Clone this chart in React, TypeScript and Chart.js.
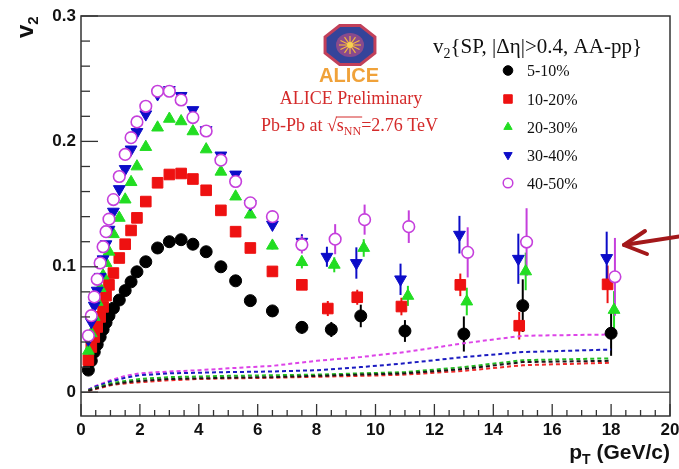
import React, { useEffect, useRef } from "react";
import { Chart, registerables } from "chart.js";

Chart.register(...registerables);

// ---------- data ----------
const pT = [0.25, 0.35, 0.45, 0.55, 0.65, 0.75, 0.85, 0.95, 1.1, 1.3, 1.5, 1.7, 1.9, 2.2, 2.6, 3.0, 3.4, 3.8, 4.25, 4.75, 5.25, 5.75, 6.5, 7.5, 8.5, 9.5, 11, 13, 15, 18];

const v2Cent5to10 = [0.0176, 0.025, 0.032, 0.038, 0.044, 0.05, 0.0555, 0.061, 0.067, 0.0735, 0.081, 0.088, 0.096, 0.104, 0.115, 0.12, 0.1216, 0.118, 0.112, 0.1, 0.0888, 0.073, 0.0648, 0.0517, 0.05, 0.0608, 0.0488, 0.0464, 0.069, 0.047];
const v2Cent10to20 = [0.0256, 0.036, 0.044, 0.052, 0.06, 0.068, 0.077, 0.0856, 0.095, 0.107, 0.118, 0.129, 0.139, 0.152, 0.167, 0.1736, 0.1744, 0.17, 0.161, 0.145, 0.128, 0.115, 0.0963, 0.0856, 0.0667, 0.0757, 0.0683, 0.0856, 0.053, 0.086];
const v2Cent20to30 = [0.033, 0.047, 0.06, 0.072, 0.083, 0.093, 0.103, 0.112, 0.126, 0.139, 0.1536, 0.1675, 0.18, 0.1955, 0.211, 0.218, 0.216, 0.208, 0.1936, 0.1758, 0.156, 0.1416, 0.1168, 0.1037, 0.1016, 0.115, 0.0768, 0.0723, 0.0963, 0.0656];
const v2Cent30to40 = [0.042, 0.056, 0.069, 0.081, 0.092, 0.106, 0.118, 0.1296, 0.144, 0.162, 0.178, 0.1936, 0.2075, 0.2216, 0.2376, 0.241, 0.2363, 0.225, 0.209, 0.1888, 0.1736, 0.15, 0.1336, 0.12, 0.108, 0.103, 0.09, 0.1256, 0.1064, 0.107];
const v2Cent40to50 = [0.045, 0.061, 0.076, 0.09, 0.103, 0.116, 0.128, 0.138, 0.1536, 0.172, 0.1896, 0.203, 0.2155, 0.228, 0.24, 0.24, 0.233, 0.219, 0.2083, 0.185, 0.168, 0.151, 0.14, 0.1176, 0.122, 0.1376, 0.132, 0.1115, 0.1197, 0.092];

const err5to10 = [0, 0, 0, 0, 0, 0, 0, 0, 0, 0, 0, 0, 0, 0, 0, 0, 0, 0, 0.001, 0.001, 0.0015, 0.002, 0.003, 0.005, 0.006, 0.009, 0.0087, 0.014, 0.021, 0.018];
const err10to20 = [0, 0, 0, 0, 0, 0, 0, 0, 0, 0, 0, 0, 0, 0, 0, 0, 0, 0, 0.001, 0.001, 0.0015, 0.002, 0.003, 0.004, 0.006, 0.006, 0.007, 0.009, 0.011, 0.015];
const err20to30 = [0, 0, 0, 0, 0, 0, 0, 0, 0, 0, 0, 0, 0, 0, 0, 0, 0, 0, 0.001, 0.0015, 0.002, 0.0025, 0.003, 0.005, 0.006, 0.007, 0.008, 0.011, 0.015, 0.015];
const err30to40 = [0, 0, 0, 0, 0, 0, 0, 0, 0, 0, 0, 0, 0, 0, 0, 0, 0, 0, 0.0015, 0.002, 0.0025, 0.003, 0.004, 0.006, 0.008, 0.0125, 0.0125, 0.015, 0.02, 0.021];
const err40to50 = [0, 0, 0, 0, 0, 0, 0, 0, 0, 0, 0, 0, 0, 0, 0, 0, 0, 0, 0.0015, 0.002, 0.0025, 0.003, 0.004, 0.007, 0.012, 0.012, 0.013, 0.02, 0.027, 0.031];

// non-flow estimates (dashed lines)
const nonFlowPt = [0.25, 0.5, 1.0, 1.5, 2.0, 3.0, 4.0, 5.0, 6.5, 8.0, 9.5, 11, 13, 15, 18];
const nf5to10 = [0.0012, 0.003, 0.006, 0.0078, 0.009, 0.0105, 0.011, 0.0115, 0.012, 0.013, 0.014, 0.015, 0.0185, 0.024, 0.025];
const nf10to20 = [0.001, 0.0025, 0.0055, 0.007, 0.008, 0.0095, 0.0105, 0.011, 0.0115, 0.0123, 0.013, 0.014, 0.017, 0.0215, 0.0235];
const nf20to30 = [0.0015, 0.0035, 0.007, 0.009, 0.0105, 0.012, 0.0125, 0.013, 0.0135, 0.014, 0.015, 0.016, 0.02, 0.0255, 0.027];
const nf30to40 = [0.0018, 0.0045, 0.0085, 0.0115, 0.0135, 0.015, 0.0155, 0.016, 0.0165, 0.0175, 0.02, 0.023, 0.028, 0.032, 0.034];
const nf40to50 = [0.002, 0.005, 0.0095, 0.013, 0.015, 0.0165, 0.0175, 0.019, 0.021, 0.025, 0.028, 0.032, 0.039, 0.045, 0.046];

const centLabels = ["5-10%", "10-20%", "20-30%", "30-40%", "40-50%"];
const xTickValues = [0, 2, 4, 6, 8, 10, 12, 14, 16, 18, 20];
const yTickValues = [0, 0.1, 0.2, 0.3];

// ---------- styles ----------
const SANS = '"Liberation Sans", Arial, Helvetica, sans-serif';
const SERIF = '"Liberation Serif", "Times New Roman", Times, serif';

const series = [
  { label: centLabels[0], values: v2Cent5to10, errors: err5to10, nonflow: nf5to10, color: "#000000", line: "#1a1a1a", marker: "circle", fill: true, radius: 6, rot: 0, shift: 0 },
  { label: centLabels[1], values: v2Cent10to20, errors: err10to20, nonflow: nf10to20, color: "#ee1111", line: "#ee2a2a", marker: "rect", fill: true, radius: 7.5, rot: 0, shift: -0.12 },
  { label: centLabels[2], values: v2Cent20to30, errors: err20to30, nonflow: nf20to30, color: "#22dd22", line: "#22bb22", marker: "triangle", fill: true, radius: 6.8, rot: 0, shift: 0.1 },
  { label: centLabels[3], values: v2Cent30to40, errors: err30to40, nonflow: nf30to40, color: "#0c0cc8", line: "#1a1ac0", marker: "triangle", fill: true, radius: 6.8, rot: 180, shift: -0.15 },
  { label: centLabels[4], values: v2Cent40to50, errors: err40to50, nonflow: nf40to50, color: "#c53fdc", line: "#dd44e8", marker: "circle", fill: false, radius: 5.8, rot: 0, shift: 0.13 },
];

function drawMarker(ctx: CanvasRenderingContext2D, s: any, x: number, y: number, r: number) {
  ctx.save();
  ctx.fillStyle = s.fill ? s.color : "#ffffff";
  ctx.strokeStyle = s.color;
  ctx.lineWidth = s.fill ? 1 : 1.5;
  ctx.beginPath();
  if (s.marker === "circle") {
    ctx.arc(x, y, r, 0, Math.PI * 2);
  } else if (s.marker === "rect") {
    const h = r * Math.SQRT1_2;
    ctx.rect(x - h, y - h, 2 * h, 2 * h);
  } else {
    const sign = s.rot === 180 ? -1 : 1;
    ctx.moveTo(x, y - sign * r);
    ctx.lineTo(x + r * 0.866, y + sign * r * 0.5);
    ctx.lineTo(x - r * 0.866, y + sign * r * 0.5);
    ctx.closePath();
  }
  ctx.fill();
  ctx.stroke();
  ctx.restore();
}

const overlayPlugin = {
  id: "rootOverlay",
  beforeDatasetsDraw(chart: any) {
    const ctx: CanvasRenderingContext2D = chart.ctx;
    const xs = chart.scales.x;
    const ys = chart.scales.y;
    chart.data.datasets.forEach((ds: any) => {
      if (!ds.errorBars) return;
      ctx.save();
      ctx.strokeStyle = ds.borderColor;
      ctx.lineWidth = 2;
      ds.data.forEach((p: any, i: number) => {
        const e = ds.errorBars[i];
        if (!e) return;
        const px = xs.getPixelForValue(p.x);
        ctx.beginPath();
        ctx.moveTo(px, ys.getPixelForValue(p.y + e));
        ctx.lineTo(px, ys.getPixelForValue(p.y - e));
        ctx.stroke();
      });
      ctx.restore();
    });
  },
  afterDraw(chart: any) {
    const ctx: CanvasRenderingContext2D = chart.ctx;
    const xs = chart.scales.x;
    const ys = chart.scales.y;
    const { left, right, top, bottom } = chart.chartArea;

    ctx.save();
    // zero line
    ctx.strokeStyle = "#555";
    ctx.lineWidth = 1.5;
    const y0 = ys.getPixelForValue(0);
    ctx.beginPath();
    ctx.moveTo(left, y0);
    ctx.lineTo(right, y0);
    ctx.stroke();

    // frame
    ctx.strokeStyle = "#333";
    ctx.lineWidth = 1.5;
    ctx.strokeRect(left, top, right - left, bottom - top);

    // y ticks (inside)
    ctx.lineWidth = 1.3;
    for (let k = -1; k <= 15; k++) {
      const v = k * 0.02;
      if (v < ys.min || v > ys.max) continue;
      const py = ys.getPixelForValue(v);
      const len = k % 5 === 0 ? 17 : 9;
      ctx.beginPath();
      ctx.moveTo(left, py);
      ctx.lineTo(left + len, py);
      ctx.stroke();
    }
    // x ticks (inside)
    for (let k = 0; k <= 40; k++) {
      const v = k * 0.5;
      const px = xs.getPixelForValue(v);
      const len = k % 4 === 0 ? 12 : 6;
      ctx.beginPath();
      ctx.moveTo(px, bottom);
      ctx.lineTo(px, bottom - len);
      ctx.stroke();
    }

    // x title
    ctx.fillStyle = "#111";
    ctx.textBaseline = "alphabetic";
    ctx.font = `bold 21px ${SANS}`;
    const tailTxt = " (GeV/c)";
    const pW = ctx.measureText("p").width;
    const tailW = ctx.measureText(tailTxt).width;
    ctx.font = `bold 14px ${SANS}`;
    const tW = ctx.measureText("T").width;
    let xx = right - (pW + tW + tailW);
    ctx.font = `bold 21px ${SANS}`;
    ctx.fillText("p", xx, 459);
    xx += pW;
    ctx.font = `bold 14px ${SANS}`;
    ctx.fillText("T", xx, 464);
    xx += tW;
    ctx.font = `bold 21px ${SANS}`;
    ctx.fillText(tailTxt, xx, 459);

    // y title (rotated)
    ctx.save();
    ctx.translate(33, 38);
    ctx.rotate(-Math.PI / 2);
    ctx.font = `bold 24px ${SANS}`;
    ctx.fillText("v", 0, 0);
    const vW = ctx.measureText("v").width;
    ctx.font = `bold 15px ${SANS}`;
    ctx.fillText("2", vW, 5);
    ctx.restore();

    // legend
    ctx.fillStyle = "#111";
    ctx.font = `21px ${SERIF}`;
    let lx = 433;
    ctx.fillText("v", lx, 53);
    lx += ctx.measureText("v").width;
    ctx.font = `14px ${SERIF}`;
    ctx.fillText("2", lx, 58);
    lx += ctx.measureText("2").width;
    ctx.font = `21px ${SERIF}`;
    ctx.fillText("{SP, |Δη|>0.4, AA-pp}", lx, 53);

    const rowY = [70.5, 99, 127, 155, 183];
    series.forEach((s, i) => {
      drawMarker(ctx, s, 508, rowY[i], s.marker === "rect" ? 6 : 4.8);
      ctx.fillStyle = "#111";
      ctx.font = `16px ${SERIF}`;
      ctx.fillText(s.label, 527, rowY[i] + 5.5);
    });

    // ALICE logo
    const cx = 350, cy = 45;
    ctx.beginPath();
    for (let k = 0; k < 8; k++) {
      const a = Math.PI / 8 + (k * Math.PI) / 4;
      const px = cx + 27 * Math.cos(a);
      const py = cy + 21 * Math.sin(a);
      if (k === 0) ctx.moveTo(px, py);
      else ctx.lineTo(px, py);
    }
    ctx.closePath();
    ctx.fillStyle = "#34449a";
    ctx.fill();
    ctx.strokeStyle = "#c2405a";
    ctx.lineWidth = 3;
    ctx.stroke();
    ctx.beginPath();
    ctx.ellipse(cx, cy, 14, 12, 0, 0, Math.PI * 2);
    ctx.fillStyle = "#8a4a8c";
    ctx.fill();
    ctx.strokeStyle = "#f2b640";
    ctx.lineWidth = 1.2;
    for (let k = 0; k < 12; k++) {
      const a = (k * Math.PI) / 6;
      ctx.beginPath();
      ctx.moveTo(cx, cy);
      ctx.lineTo(cx + 11 * Math.cos(a), cy + 9 * Math.sin(a));
      ctx.stroke();
    }
    ctx.beginPath();
    ctx.arc(cx, cy, 3, 0, Math.PI * 2);
    ctx.fillStyle = "#f7d050";
    ctx.fill();
    ctx.font = `bold 20px ${SANS}`;
    ctx.fillStyle = "#f0a23a";
    ctx.textAlign = "center";
    ctx.fillText("ALICE", 349, 82);

    // preliminary texts
    ctx.fillStyle = "#d42a2a";
    ctx.font = `18px ${SERIF}`;
    ctx.fillText("ALICE Preliminary", 351, 104);
    ctx.textAlign = "left";
    const part1 = "Pb-Pb at ";
    const part3 = "=2.76 TeV";
    ctx.font = `18px ${SERIF}`;
    const w1 = ctx.measureText(part1).width;
    const wR = ctx.measureText("√").width;
    const wS = ctx.measureText("s").width;
    const w3 = ctx.measureText(part3).width;
    ctx.font = `12px ${SERIF}`;
    const wNN = ctx.measureText("NN").width;
    let tx = 349.5 - (w1 + wR + wS + wNN + w3) / 2;
    const by = 131;
    ctx.font = `18px ${SERIF}`;
    ctx.fillText(part1, tx, by);
    tx += w1;
    ctx.fillText("√", tx, by);
    tx += wR;
    ctx.strokeStyle = "#d42a2a";
    ctx.lineWidth = 1;
    ctx.beginPath();
    ctx.moveTo(tx - 1, by - 14);
    ctx.lineTo(tx + wS + wNN + 1, by - 14);
    ctx.stroke();
    ctx.fillText("s", tx, by);
    tx += wS;
    ctx.font = `12px ${SERIF}`;
    ctx.fillText("NN", tx, by + 4);
    tx += wNN;
    ctx.font = `18px ${SERIF}`;
    ctx.fillText(part3, tx, by);

    // red arrow
    ctx.strokeStyle = "#a3181a";
    ctx.lineWidth = 4;
    ctx.lineCap = "round";
    ctx.lineJoin = "round";
    ctx.beginPath();
    ctx.moveTo(682, 236);
    ctx.lineTo(624, 245);
    ctx.stroke();
    ctx.beginPath();
    ctx.moveTo(645, 231);
    ctx.lineTo(624, 245);
    ctx.lineTo(647, 254);
    ctx.stroke();

    ctx.restore();
  },
};

export default function App() {
  const ref = useRef<HTMLCanvasElement>(null);

  useEffect(() => {
    const markerSets = series.map((s, idx) => ({
      type: "scatter" as const,
      label: s.label,
      data: pT.map((x, i) => ({ x: i >= 24 ? x + s.shift : x, y: s.values[i] })),
      errorBars: s.errors,
      showLine: false,
      pointStyle: s.marker,
      rotation: s.rot,
      pointRadius: s.radius,
      pointBackgroundColor: s.fill ? s.color : "#ffffff",
      pointBorderColor: s.color,
      pointBorderWidth: s.fill ? 1 : 1.6,
      borderColor: s.color,
      backgroundColor: s.color,
      order: 5 - idx,
    }));
    const lineSets = series.map((s) => ({
      type: "scatter" as const,
      label: s.label + " non-flow",
      data: nonFlowPt.map((x, i) => ({ x, y: s.nonflow[i] })),
      showLine: true,
      pointRadius: 0,
      borderColor: s.line,
      borderWidth: 2,
      borderDash: [4, 3],
      fill: false,
      tension: 0,
      order: 10,
    }));

    const chart = new Chart(ref.current as HTMLCanvasElement, {
      type: "scatter",
      data: { datasets: [...lineSets, ...markerSets] as any },
      options: {
        animation: false,
        responsive: false,
        devicePixelRatio: 1,
        events: [],
        layout: { padding: { top: 16, right: 9, left: 0, bottom: 0 } },
        plugins: { legend: { display: false }, tooltip: { enabled: false }, title: { display: false } },
        scales: {
          x: {
            type: "linear",
            min: 0,
            max: 20,
            grid: { display: false, drawTicks: false },
            border: { display: false },
            afterBuildTicks: (s: any) => {
              s.ticks = xTickValues.map((v) => ({ value: v }));
            },
            afterFit: (s: any) => {
              s.height = 53;
              s.paddingLeft = 0;
              s.paddingRight = 0;
            },
            ticks: {
              color: "#111",
              font: { family: SANS, size: 17, weight: "bold" },
              padding: 4,
              maxRotation: 0,
              autoSkip: false,
              callback: (v: any) => String(v),
            },
          },
          y: {
            type: "linear",
            min: -0.019,
            max: 0.3,
            grid: { display: false, drawTicks: false },
            border: { display: false },
            afterBuildTicks: (s: any) => {
              s.ticks = yTickValues.map((v) => ({ value: v }));
            },
            afterFit: (s: any) => {
              s.width = 81;
              s.paddingTop = 0;
              s.paddingBottom = 0;
            },
            ticks: {
              color: "#111",
              font: { family: SANS, size: 17, weight: "bold" },
              padding: 5,
              autoSkip: false,
              callback: (v: any) => (Number(v) === 0 ? "0" : Number(v).toFixed(1)),
            },
          },
        },
      } as any,
      plugins: [overlayPlugin],
    });
    return () => chart.destroy();
  }, []);

  return (
    <div style={{ position: "fixed", left: 0, top: 0, width: 679, height: 469, background: "#ffffff" }}>
      <canvas ref={ref} width={679} height={469} style={{ display: "block", width: 679, height: 469 }} />
    </div>
  );
}
